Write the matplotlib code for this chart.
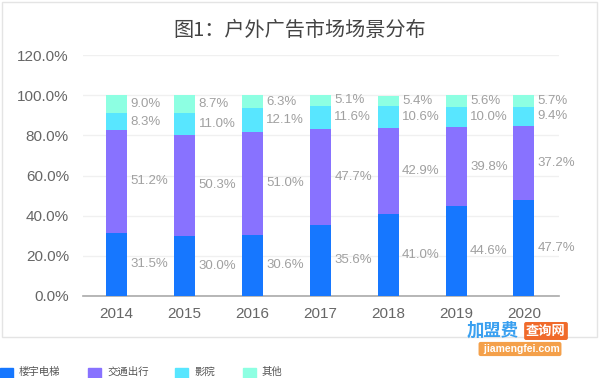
import matplotlib.pyplot as plt
import numpy as np
from matplotlib.patches import Rectangle

plt.rcParams['font.family'] = ['Liberation Sans', 'Noto Sans CJK SC', 'DejaVu Sans']

# data
years = ['2014', '2015', '2016', '2017', '2018', '2019', '2020']
louyu = [31.5, 30.0, 30.6, 35.6, 41.0, 44.6, 47.7]      # 楼宇电梯
jiaotong = [51.2, 50.3, 51.0, 47.7, 42.9, 39.8, 37.2]   # 交通出行
yingyuan = [8.3, 11.0, 12.1, 11.6, 10.6, 10.0, 9.4]     # 影院
qita = [9.0, 8.7, 6.3, 5.1, 5.4, 5.6, 5.7]              # 其他

names = ['楼宇电梯', '交通出行', '影院', '其他']
colors = ['#1677ff', '#8872ff', '#58e6ff', '#8dffe2']
series = [louyu, jiaotong, yingyuan, qita]

fig = plt.figure(figsize=(6, 3.78), dpi=100)
ax = fig.add_axes([0.138, 0.217, 0.794, 0.637])

x = np.arange(len(years))
w = 0.31
bottom = np.zeros(len(years))
for vals, c in zip(series, colors):
    vals = np.array(vals)
    ax.bar(x, vals, w, bottom=bottom, color=c, zorder=3)
    for xi, b, v in zip(x, bottom, vals):
        ax.text(xi + w / 2 + 0.05, b + v / 2, f'{v:.1f}%', ha='left', va='center',
                fontsize=9.5, color='#a0a0a0')
    bottom += vals

ax.set_xlim(-0.5, 6.52)
ax.set_ylim(0, 120)
ax.set_yticks(np.arange(0, 121, 20))
ax.set_yticklabels([f'{t:.1f}%' for t in np.arange(0, 121, 20)])
ax.set_xticks(x)
ax.set_xticklabels(years)
ax.tick_params(length=0, labelsize=11, colors='#666666', pad=10)
ax.tick_params(axis='x', pad=8)
ax.grid(axis='y', color='#f0f0f0', lw=1, zorder=0)
for s in ['top', 'right', 'left']:
    ax.spines[s].set_visible(False)
ax.spines['bottom'].set_color('#aaaaaa')
ax.spines['bottom'].set_linewidth(1.2)

fig.text(0.5, 0.918, '图1：户外广告市场场景分布', ha='center', va='center',
         fontsize=14.5, color='#444444', family=['Noto Sans CJK SC', 'DejaVu Sans'])

# outer frame
fig.add_artist(Rectangle((0.003, 1 - 337 / 378), 0.992, 337 / 378 - 0.004,
                         transform=fig.transFigure, fill=False, ec='#e4e4e4', lw=1))

# legend below the frame
cjk = ['Noto Sans CJK SC', 'DejaVu Sans']
lx = [0, 88, 175, 243]
for px, name, c in zip(lx, names, colors):
    fig.add_artist(Rectangle((px / 600, 0), 13 / 600, 10 / 378,
                             transform=fig.transFigure, color=c))
    fig.text((px + 19) / 600, 6 / 378, name, ha='left', va='center',
             fontsize=7.5, color='#555555', family=cjk)

# watermark
fig.text(467 / 600, 1 - 331 / 378, '加盟费', ha='left', va='center', fontsize=12.5,
         color='#3aa0f0', fontweight='bold', style='italic', family=cjk)
fig.text(546 / 600, 1 - 331 / 378, '查询网', ha='center', va='center', fontsize=9.5,
         color='white', fontweight='bold', family=cjk,
         bbox=dict(boxstyle='round,pad=0.15', fc='#f06a2a', ec='none'))
fig.text(520 / 600, 1 - 349 / 378, ' jiamengfei.com', ha='center', va='center', fontsize=7.5,
         color='white', fontweight='bold',
         bbox=dict(boxstyle='round,pad=0.2', fc='#f4a04a', ec='none'))

fig.savefig('out.png', dpi=100)
